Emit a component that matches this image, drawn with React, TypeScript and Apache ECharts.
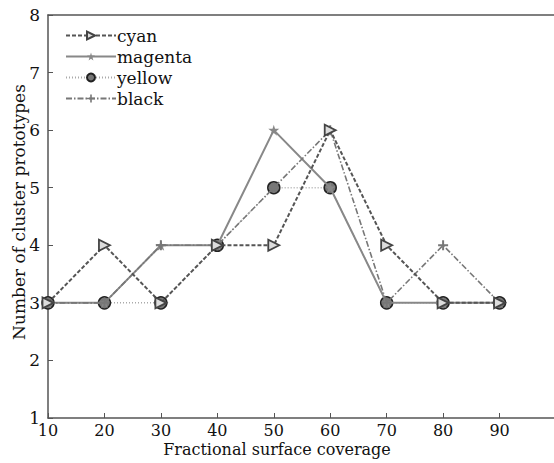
import React, { useEffect, useRef } from "react";
import * as echarts from "echarts";

const coverage = [10, 20, 30, 40, 50, 60, 70, 80, 90];
const cyan = [3, 4, 3, 4, 4, 6, 4, 3, 3];
const magenta = [3, 3, 4, 4, 6, 5, 3, 3, 3];
const yellow = [3, 3, 3, 4, 5, 5, 3, 3, 3];
const black = [3, 3, 4, 4, 5, 6, 3, 4, 3];
const seriesNames = ["cyan", "magenta", "yellow", "black"];

const FONT = "DejaVu Serif";
const STAR =
  "path://M50,0 L61,35 L98,35 L68,57 L79,91 L50,70 L21,91 L32,57 L2,35 L39,35 Z";
const PLUS = "path://M4,0 H6 V4 H10 V6 H6 V10 H4 V6 H0 V4 H4 Z";

export default function App() {
  const ref = useRef<HTMLDivElement>(null);
  useEffect(() => {
    const chart = echarts.init(ref.current!, undefined, { renderer: "svg" });
    const pair = (arr: number[]) => coverage.map((x, i) => [x, arr[i]]);
    const axisLine = { show: true, lineStyle: { color: "#555", width: 1.5 } };
    chart.setOption({
      animation: false,
      backgroundColor: "#fff",
      grid: { left: 48, top: 15, width: 508, height: 403, outerBoundsMode: "none", containLabel: false },
      legend: {
        orient: "vertical",
        left: 60,
        top: 22,
        itemWidth: 50,
        itemHeight: 10,
        itemGap: 4,
        data: seriesNames,
        textStyle: { fontFamily: FONT, fontSize: 17, color: "#111", padding: [0, 0, 0, -4] },
      },
      xAxis: [
        {
          type: "value",
          min: 10,
          max: 100,
          interval: 10,
          axisLine,
          axisTick: { show: true, inside: true, length: 5, lineStyle: { color: "#555" } },
          splitLine: { show: false },
          axisLabel: {
            fontFamily: FONT,
            fontSize: 16,
            color: "#111",
            margin: 4,
            formatter: (v: number) => (v <= 90 ? String(v) : ""),
          },
        },
        {
          type: "value",
          position: "top",
          min: 10,
          max: 100,
          interval: 10,
          axisLine,
          axisTick: { show: false },
          splitLine: { show: false },
          axisLabel: { show: false },
        },
      ],
      yAxis: {
        type: "value",
        min: 1,
        max: 8,
        interval: 1,
        axisLine,
        axisTick: { show: true, inside: true, length: 5, lineStyle: { color: "#555" } },
        splitLine: { show: false },
        axisLabel: { fontFamily: FONT, fontSize: 17, color: "#111", margin: 8 },
      },
      graphic: [
        {
          type: "text",
          left: "center",
          top: 441,
          style: { text: "Fractional surface coverage", font: `16px "${FONT}"`, fill: "#111" },
        },
        {
          type: "text",
          x: 19,
          y: 212,
          rotation: Math.PI / 2,
          style: {
            text: "Number of cluster prototypes",
            font: `17px "${FONT}"`,
            fill: "#111",
            align: "center",
            verticalAlign: "middle",
          },
        },
      ],
      series: [
        {
          name: "yellow",
          type: "line",
          data: pair(yellow),
          z: 2,
          symbol: "circle",
          symbolSize: 12,
          lineStyle: { color: "#aaa", width: 1.5, type: [1, 2] },
          itemStyle: { color: "#777", borderColor: "#222", borderWidth: 1.5 },
        },
        {
          name: "magenta",
          type: "line",
          data: pair(magenta),
          z: 3,
          symbol: STAR,
          symbolSize: 11,
          lineStyle: { color: "#888", width: 2 },
          itemStyle: { color: "#888" },
        },
        {
          name: "black",
          type: "line",
          data: pair(black),
          z: 4,
          symbol: PLUS,
          symbolSize: 10,
          lineStyle: { color: "#777", width: 1.6, type: [6, 2, 1.5, 2] },
          itemStyle: { color: "#777" },
        },
        {
          name: "cyan",
          type: "line",
          data: pair(cyan),
          z: 5,
          symbol: "triangle",
          symbolRotate: -90,
          symbolSize: 11,
          lineStyle: { color: "#555", width: 2, type: [4, 2] },
          itemStyle: { color: "#ddd", borderColor: "#444", borderWidth: 1.8 },
        },
      ],
    });
    return () => chart.dispose();
  }, []);
  return (
    <div
      ref={ref}
      style={{ position: "fixed", left: 0, top: 0, width: 554, height: 463 }}
    />
  );
}
